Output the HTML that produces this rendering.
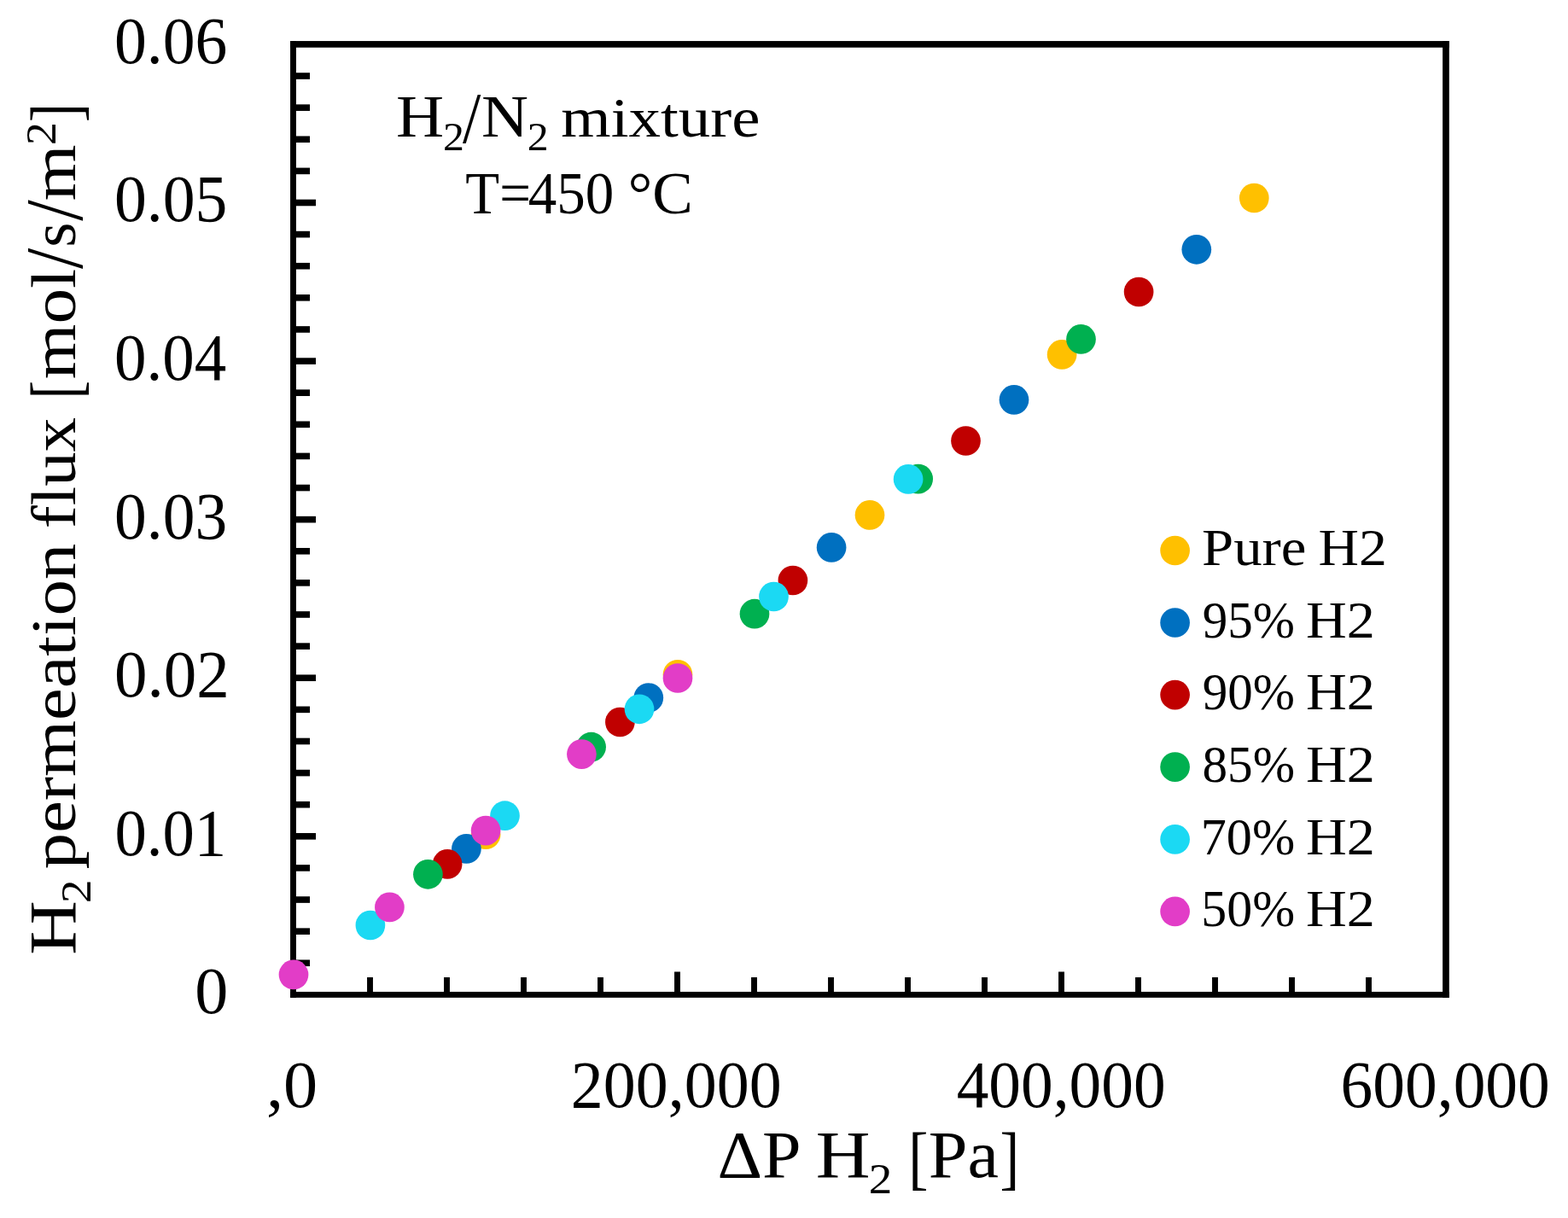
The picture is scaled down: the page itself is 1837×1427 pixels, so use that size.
<!DOCTYPE html>
<html lang="en">
<head>
<meta charset="utf-8">
<title>H2 permeation flux vs ΔP H2</title>
<style>
html,body{margin:0;padding:0;background:#fff;}
body{width:1837px;height:1427px;overflow:hidden;}
svg{display:block;}
text{font-family:"Liberation Serif",serif;fill:#000;white-space:pre;}
</style>
</head>
<body>
<svg width="1837" height="1427" viewBox="0 0 1837 1427">
<rect x="0" y="0" width="1837" height="1427" fill="#fff"/>
<g fill="#000" shape-rendering="geometricPrecision">
<rect x="343.5" y="85.22" width="19.50" height="7.6"/>
<rect x="343.5" y="122.33" width="19.50" height="7.6"/>
<rect x="343.5" y="159.45" width="19.50" height="7.6"/>
<rect x="343.5" y="196.57" width="19.50" height="7.6"/>
<rect x="343.5" y="233.68" width="26.50" height="7.6"/>
<rect x="343.5" y="270.80" width="19.50" height="7.6"/>
<rect x="343.5" y="307.92" width="19.50" height="7.6"/>
<rect x="343.5" y="345.03" width="19.50" height="7.6"/>
<rect x="343.5" y="382.15" width="19.50" height="7.6"/>
<rect x="343.5" y="419.27" width="26.50" height="7.6"/>
<rect x="343.5" y="456.38" width="19.50" height="7.6"/>
<rect x="343.5" y="493.50" width="19.50" height="7.6"/>
<rect x="343.5" y="530.62" width="19.50" height="7.6"/>
<rect x="343.5" y="567.73" width="19.50" height="7.6"/>
<rect x="343.5" y="604.85" width="26.50" height="7.6"/>
<rect x="343.5" y="641.97" width="19.50" height="7.6"/>
<rect x="343.5" y="679.08" width="19.50" height="7.6"/>
<rect x="343.5" y="716.20" width="19.50" height="7.6"/>
<rect x="343.5" y="753.32" width="19.50" height="7.6"/>
<rect x="343.5" y="790.43" width="26.50" height="7.6"/>
<rect x="343.5" y="827.55" width="19.50" height="7.6"/>
<rect x="343.5" y="864.67" width="19.50" height="7.6"/>
<rect x="343.5" y="901.78" width="19.50" height="7.6"/>
<rect x="343.5" y="938.90" width="19.50" height="7.6"/>
<rect x="343.5" y="976.02" width="26.50" height="7.6"/>
<rect x="343.5" y="1013.13" width="19.50" height="7.6"/>
<rect x="343.5" y="1050.25" width="19.50" height="7.6"/>
<rect x="343.5" y="1087.37" width="19.50" height="7.6"/>
<rect x="343.5" y="1124.48" width="19.50" height="7.6"/>
<rect x="430.05" y="1145.00" width="6.9" height="20.40"/>
<rect x="520.05" y="1145.00" width="6.9" height="20.40"/>
<rect x="610.05" y="1145.00" width="6.9" height="20.40"/>
<rect x="700.05" y="1145.00" width="6.9" height="20.40"/>
<rect x="790.05" y="1138.50" width="6.9" height="26.90"/>
<rect x="880.05" y="1145.00" width="6.9" height="20.40"/>
<rect x="970.05" y="1145.00" width="6.9" height="20.40"/>
<rect x="1060.05" y="1145.00" width="6.9" height="20.40"/>
<rect x="1150.05" y="1145.00" width="6.9" height="20.40"/>
<rect x="1240.05" y="1138.50" width="6.9" height="26.90"/>
<rect x="1330.05" y="1145.00" width="6.9" height="20.40"/>
<rect x="1420.05" y="1145.00" width="6.9" height="20.40"/>
<rect x="1510.05" y="1145.00" width="6.9" height="20.40"/>
<rect x="1600.05" y="1145.00" width="6.9" height="20.40"/>
<rect x="340.05" y="48.05" width="6.9" height="1120.8"/>
<rect x="1690.1" y="48.05" width="7.7" height="1120.8"/>
<rect x="340.05" y="48.05" width="1357.75" height="7.65"/>
<rect x="340.05" y="1161.95" width="1357.75" height="6.9"/>
</g>
<g fill="#FFC000"><circle cx="569.1" cy="977.7" r="17.35"/><circle cx="794.0" cy="790.3" r="17.35"/><circle cx="1019.0" cy="603.4" r="17.35"/><circle cx="1244.1" cy="415.4" r="17.35"/><circle cx="1469.3" cy="232.0" r="17.35"/></g>
<g fill="#0070C0"><circle cx="546.4" cy="994.4" r="17.35"/><circle cx="759.8" cy="817.5" r="17.35"/><circle cx="974.1" cy="641.4" r="17.35"/><circle cx="1188.0" cy="468.4" r="17.35"/><circle cx="1401.8" cy="292.3" r="17.35"/></g>
<g fill="#C00000"><circle cx="524.1" cy="1012.4" r="17.35"/><circle cx="726.4" cy="846.0" r="17.35"/><circle cx="928.9" cy="680.0" r="17.35"/><circle cx="1131.5" cy="516.5" r="17.35"/><circle cx="1334.1" cy="342.0" r="17.35"/></g>
<g fill="#00B050"><circle cx="501.4" cy="1024.3" r="17.35"/><circle cx="692.6" cy="875.2" r="17.35"/><circle cx="884.0" cy="719.2" r="17.35"/><circle cx="1075.7" cy="561.1" r="17.35"/><circle cx="1266.5" cy="397.4" r="17.35"/></g>
<g fill="#1BD9F3"><circle cx="433.9" cy="1084.0" r="17.35"/><circle cx="591.5" cy="955.7" r="17.35"/><circle cx="749.0" cy="830.8" r="17.35"/><circle cx="906.5" cy="699.0" r="17.35"/><circle cx="1064.1" cy="561.4" r="17.35"/></g>
<g fill="#E23DC7"><circle cx="344.0" cy="1141.9" r="17.35"/><circle cx="456.4" cy="1062.9" r="17.35"/><circle cx="569.1" cy="973.1" r="17.35"/><circle cx="681.4" cy="883.6" r="17.35"/><circle cx="794.0" cy="794.5" r="17.35"/></g>
<circle cx="1376.6" cy="645.0" r="17.35" fill="#FFC000"/>
<circle cx="1376.6" cy="729.5" r="17.35" fill="#0070C0"/>
<circle cx="1376.6" cy="814.1" r="17.35" fill="#C00000"/>
<circle cx="1376.6" cy="898.6" r="17.35" fill="#00B050"/>
<circle cx="1376.6" cy="983.4" r="17.35" fill="#1BD9F3"/>
<circle cx="1376.6" cy="1067.9" r="17.35" fill="#E23DC7"/>
<text><tspan x="133.95" y="73.90" font-size="78.60" textLength="132.42" lengthAdjust="spacingAndGlyphs">0.06</tspan></text>
<text><tspan x="133.95" y="259.48" font-size="78.60" textLength="132.50" lengthAdjust="spacingAndGlyphs">0.05</tspan></text>
<text><tspan x="134.07" y="445.07" font-size="78.60" textLength="131.25" lengthAdjust="spacingAndGlyphs">0.04</tspan></text>
<text><tspan x="134.06" y="630.65" font-size="78.60" textLength="132.08" lengthAdjust="spacingAndGlyphs">0.03</tspan></text>
<text><tspan x="134.01" y="816.23" font-size="78.60" textLength="134.73" lengthAdjust="spacingAndGlyphs">0.02</tspan></text>
<text><tspan x="134.49" y="1001.82" font-size="78.60" textLength="130.69" lengthAdjust="spacingAndGlyphs">0.01</tspan></text>
<text><tspan x="228.17" y="1187.40" font-size="78.60" textLength="39.07" lengthAdjust="spacingAndGlyphs">0</tspan></text>
<text><tspan x="311.99" y="1297.30" font-size="78.60" textLength="60.22" lengthAdjust="spacingAndGlyphs">,0</tspan></text>
<text><tspan x="668.86" y="1297.30" font-size="78.60" textLength="246.80" lengthAdjust="spacingAndGlyphs">200,000</tspan></text>
<text><tspan x="1120.67" y="1297.30" font-size="78.60" textLength="245.07" lengthAdjust="spacingAndGlyphs">400,000</tspan></text>
<text><tspan x="1570.58" y="1297.30" font-size="78.60" textLength="245.26" lengthAdjust="spacingAndGlyphs">600,000</tspan></text>
<text><tspan x="840.43" y="1379.00" font-size="78.60" textLength="98.18" lengthAdjust="spacingAndGlyphs">ΔP</tspan> <tspan x="955.69" y="1379.00" font-size="78.60" textLength="63.81" lengthAdjust="spacingAndGlyphs">H</tspan><tspan x="1017.70" y="1397.80" font-size="51.00" textLength="27.53" lengthAdjust="spacingAndGlyphs">2</tspan> <tspan x="1064.13" y="1383.90" font-size="81.74" textLength="23.17" lengthAdjust="spacingAndGlyphs">[</tspan><tspan x="1087.85" y="1379.00" font-size="78.60" textLength="82.18" lengthAdjust="spacingAndGlyphs">Pa</tspan><tspan x="1171.52" y="1383.90" font-size="81.74" textLength="22.65" lengthAdjust="spacingAndGlyphs">]</tspan></text>
<text><tspan x="463.96" y="160.00" font-size="69.80" textLength="56.16" lengthAdjust="spacingAndGlyphs">H</tspan><tspan x="518.90" y="175.90" font-size="46.50" textLength="24.94" lengthAdjust="spacingAndGlyphs">2</tspan><tspan x="541.90" y="166.98" font-size="85.34" textLength="21.32" lengthAdjust="spacingAndGlyphs">/</tspan><tspan x="563.90" y="160.00" font-size="69.80" textLength="54.99" lengthAdjust="spacingAndGlyphs">N</tspan><tspan x="617.80" y="175.90" font-size="46.50" textLength="24.94" lengthAdjust="spacingAndGlyphs">2</tspan> <tspan x="657.30" y="160.00" font-size="65.96" textLength="233.28" lengthAdjust="spacingAndGlyphs">mixture</tspan></text>
<text><tspan x="545.32" y="249.80" font-size="69.80" textLength="76.60" lengthAdjust="spacingAndGlyphs">T=</tspan><tspan x="618.79" y="249.80" font-size="69.80" textLength="100.55" lengthAdjust="spacingAndGlyphs">450</tspan> <tspan x="735.79" y="249.80" font-size="69.80" textLength="76.01" lengthAdjust="spacingAndGlyphs">°C</tspan></text>
<text><tspan x="1408.03" y="662.30" font-size="62.20" textLength="122.38" lengthAdjust="spacingAndGlyphs">Pure</tspan> <tspan x="1544.46" y="662.30" font-size="62.20" textLength="80.38" lengthAdjust="spacingAndGlyphs">H2</tspan></text>
<text><tspan x="1408.83" y="746.80" font-size="62.20" textLength="108.22" lengthAdjust="spacingAndGlyphs">95%</tspan> <tspan x="1529.94" y="746.80" font-size="62.20" textLength="80.91" lengthAdjust="spacingAndGlyphs">H2</tspan></text>
<text><tspan x="1408.83" y="831.40" font-size="62.20" textLength="108.22" lengthAdjust="spacingAndGlyphs">90%</tspan> <tspan x="1529.94" y="831.40" font-size="62.20" textLength="80.91" lengthAdjust="spacingAndGlyphs">H2</tspan></text>
<text><tspan x="1408.53" y="915.90" font-size="62.20" textLength="108.53" lengthAdjust="spacingAndGlyphs">85%</tspan> <tspan x="1529.94" y="915.90" font-size="62.20" textLength="80.91" lengthAdjust="spacingAndGlyphs">H2</tspan></text>
<text><tspan x="1406.69" y="1000.70" font-size="62.20" textLength="110.41" lengthAdjust="spacingAndGlyphs">70%</tspan> <tspan x="1529.94" y="1000.70" font-size="62.20" textLength="80.91" lengthAdjust="spacingAndGlyphs">H2</tspan></text>
<text><tspan x="1407.31" y="1085.20" font-size="62.20" textLength="109.77" lengthAdjust="spacingAndGlyphs">50%</tspan> <tspan x="1529.94" y="1085.20" font-size="62.20" textLength="80.91" lengthAdjust="spacingAndGlyphs">H2</tspan></text>
<text transform="translate(87.9,1200.0) rotate(-90)"><tspan x="81.20" y="0.00" font-size="78.60" textLength="63.49" lengthAdjust="spacingAndGlyphs">H</tspan><tspan x="141.78" y="18.30" font-size="51.00" textLength="27.78" lengthAdjust="spacingAndGlyphs">2</tspan> <tspan x="181.73" y="0.00" font-size="74.28" textLength="381.58" lengthAdjust="spacingAndGlyphs">permeation</tspan> <tspan x="580.77" y="0.00" font-size="74.28" textLength="130.31" lengthAdjust="spacingAndGlyphs">flux</tspan> <tspan x="732.63" y="4.90" font-size="81.74" textLength="21.29" lengthAdjust="spacingAndGlyphs">[</tspan><tspan x="755.84" y="0.00" font-size="74.28" textLength="129.28" lengthAdjust="spacingAndGlyphs">mol</tspan><tspan x="885.00" y="7.86" font-size="96.10" textLength="24.25" lengthAdjust="spacingAndGlyphs">/</tspan><tspan x="910.29" y="0.00" font-size="74.28" textLength="29.28" lengthAdjust="spacingAndGlyphs">s</tspan><tspan x="941.20" y="7.86" font-size="96.10" textLength="24.45" lengthAdjust="spacingAndGlyphs">/</tspan><tspan x="964.81" y="0.00" font-size="74.28" textLength="65.78" lengthAdjust="spacingAndGlyphs">m</tspan><tspan x="1030.14" y="-22.70" font-size="51.00" textLength="27.04" lengthAdjust="spacingAndGlyphs">2</tspan><tspan x="1057.11" y="4.90" font-size="81.74" textLength="21.76" lengthAdjust="spacingAndGlyphs">]</tspan></text>
</svg>
</body>
</html>
